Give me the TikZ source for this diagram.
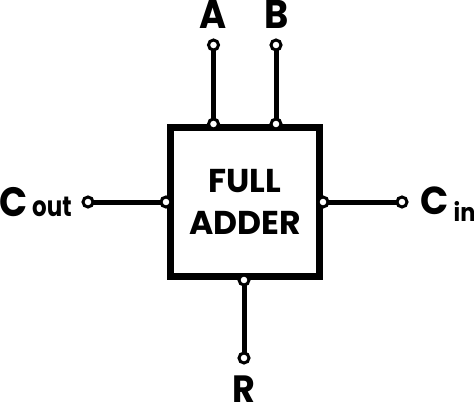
\documentclass[tikz,border=0pt]{standalone}
\usepackage{fontspec}
\setmainfont{Poppins}
\tikzset{
  px/.style={x=1pt,y=-1pt},
  wire/.style={line width=5pt,draw=black},
  blockbox/.style={draw=black,line width=7pt,fill=white,minimum width=149pt,minimum height=149pt,inner sep=0pt,anchor=center},
  pin/.style={circle,draw=black,fill=white,line width=3pt,minimum size=10pt,inner sep=0pt},
  lab/.style={font=\bfseries\fontsize{40}{40}\selectfont,inner sep=0pt,anchor=base,xscale=.92},
  rlab/.style={font=\bfseries\fontsize{38}{38}\selectfont,inner sep=0pt,anchor=base,xscale=.92},
  clab/.style={font=\bfseries\fontsize{41}{41}\selectfont,inner sep=0pt,anchor=base west,xscale=.9},
  cinlab/.style={font=\bfseries\fontsize{39}{39}\selectfont,inner sep=0pt,anchor=base west,xscale=.95},
  sublab/.style={font=\bfseries\fontsize{28}{28}\selectfont,inner sep=0pt,anchor=base west,xscale=.82},
  sublabin/.style={font=\bfseries\fontsize{25}{25}\selectfont,inner sep=0pt,anchor=base west,xscale=.9},
  title/.style={font=\bfseries\fontsize{33}{42}\selectfont,align=center,inner sep=0pt}
}
\begin{document}
\begin{tikzpicture}[px]
\useasboundingbox (0,0) rectangle (474,404);
\node[blockbox] (box) at (245,202) {};
\node[title] (t) at (245,202) {FULL\\ADDER};
\coordinate (ja) at (213.5,124);
\coordinate (jb) at (276,124);
\coordinate (jl) at (166,202);
\coordinate (jr) at (323,202);
\coordinate (jd) at (244,280);
\coordinate (ta) at (213.5,45);
\coordinate (tb) at (276,45);
\coordinate (tl) at (88,202);
\coordinate (tr) at (402,202);
\coordinate (td) at (244,358);
\draw[wire] (ta) -- (ja);
\draw[wire] (tb) -- (jb);
\draw[wire] (tl) -- (jl);
\draw[wire] (tr) -- (jr);
\draw[wire] (td) -- (jd);
\foreach \p in {ja,jb,jl,jr,jd,ta,tb,tl,tr,td} \node[pin] (n\p) at (\p) {};
\node[lab] (A) at (213.5,29) {A};
\node[lab] (B) at (276.5,29) {B};
\node[rlab] (R) at (244,402) {R};
\node[clab] (C1) at (-1,216) {C};
\node[sublab] (C2) at (32,216) {out};
\node[cinlab] (C3) at (420.5,214.5) {C};
\node[sublabin] (C4) at (453.5,221) {in};
\end{tikzpicture}
\end{document}
